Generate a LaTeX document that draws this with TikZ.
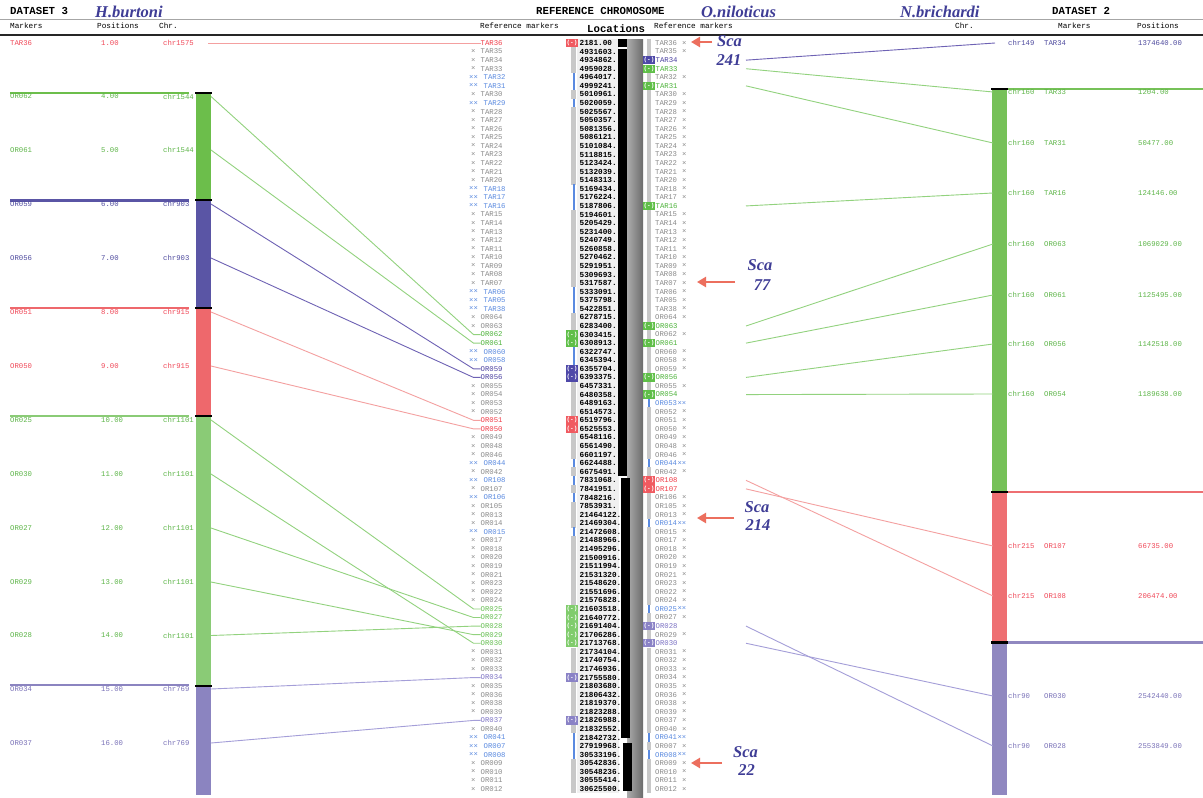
\documentclass[tikz,border=0pt]{standalone}
\usepackage{fontspec}
\setmainfont{Liberation Serif}
\setmonofont{Liberation Mono}
\usetikzlibrary{arrows.meta}
\definecolor{refgray}{HTML}{8A8A8A}
\definecolor{refblue}{HTML}{5A8AE0}
\definecolor{rowgray}{HTML}{C8C8C8}
\definecolor{numbg}{HTML}{F0F0F0}
\definecolor{tgreen}{HTML}{4DB33A}
\definecolor{tlgreen}{HTML}{66BF52}
\definecolor{tpurple}{HTML}{4A40A0}
\definecolor{tlav}{HTML}{7C72C4}
\definecolor{tred}{HTML}{F03C48}
\definecolor{bgreen}{HTML}{5FBF48}
\definecolor{blgreen}{HTML}{80CC6C}
\definecolor{bpurple}{HTML}{4E48A8}
\definecolor{blav}{HTML}{8A82C6}
\definecolor{bred}{HTML}{F05A60}
\definecolor{specblue}{HTML}{3F3D96}
\definecolor{arrowred}{HTML}{EC6F5E}
\definecolor{kgreenA}{HTML}{6CBE4B}
\definecolor{kpurple}{HTML}{5A55A5}
\definecolor{kred}{HTML}{EE686C}
\definecolor{kgreenB}{HTML}{8ACB76}
\definecolor{klav}{HTML}{8B84C0}
\definecolor{kgreenR}{HTML}{76C158}
\definecolor{kredR}{HTML}{EE6F72}
\definecolor{klavR}{HTML}{9088C0}
\definecolor{lgreen}{HTML}{92D27E}
\definecolor{lpurple}{HTML}{6E62B4}
\definecolor{lred}{HTML}{F4A0A0}
\definecolor{llav}{HTML}{A49ED8}
\definecolor{dred}{HTML}{F04858}
\definecolor{dgreen}{HTML}{5DB548}
\definecolor{dpurple}{HTML}{4E4A9E}
\definecolor{dlav}{HTML}{7A72B8}
\tikzset{
 reftxt/.style={anchor=west,inner sep=0pt,font=\ttfamily\fontsize{7.3}{8}\selectfont},
 numtxt/.style={anchor=west,inner sep=0pt,font=\ttfamily\bfseries\fontsize{7.7}{8}\selectfont},
 dtxt/.style={anchor=west,inner sep=0pt,font=\ttfamily\fontsize{7.3}{8}\selectfont},
 hdr/.style={anchor=west,inner sep=0pt,font=\ttfamily\fontsize{7.7}{9}\selectfont},
 hdrtitle/.style={anchor=west,inner sep=0pt,font=\ttfamily\bfseries\fontsize{10.7}{12}\selectfont},
 species/.style={anchor=west,inner sep=0pt,text=specblue,font=\bfseries\itshape\fontsize{16.5}{18}\selectfont},
 scatxt/.style={inner sep=0pt,text=specblue,font=\bfseries\itshape\fontsize{16.5}{18}\selectfont},
 scaarrow/.style={draw=arrowred,line width=2.8pt,-{Triangle[length=9pt,width=10pt]}},
 mbox/.style={minimum width=12pt,minimum height=8.4pt,inner sep=0pt,text=white,font=\ttfamily\bfseries\fontsize{6}{6}\selectfont},
 conn/.style={line width=0.9pt},
}
% left reference-marker styles
\newcommand\mkLn[2]{%
 \fill[rowgray] (571,\rowy-4.3) rectangle (576,\rowy+4.3);
 \node[reftxt,text=refgray] (LX#1) at (471,\rowy) {×};
 \node[reftxt,text=refgray] (LN#1) at (480.5,\rowy) {#2};}
\newcommand\mkLb[2]{%
 \fill[refblue] (572.5,\rowy-4.3) rectangle (575,\rowy+4.3);
 \node[reftxt,text=refblue] (LX#1) at (469,\rowy) {××};
 \node[reftxt,text=refblue] (LN#1) at (483.5,\rowy) {#2};}
\newcommand\mkLcol[4]{%
 \node[mbox,fill=#3] (LB#1) at (572,\rowy) {(-)};
 \node[reftxt,text=#4] (LN#1) at (480.5,\rowy) {#2};}
\newcommand\mkLg[2]{\mkLcol{#1}{#2}{bgreen}{tgreen}}
\newcommand\mkLh[2]{\mkLcol{#1}{#2}{blgreen}{tlgreen}}
\newcommand\mkLp[2]{\mkLcol{#1}{#2}{bpurple}{tpurple}}
\newcommand\mkLl[2]{\mkLcol{#1}{#2}{blav}{tlav}}
\newcommand\mkLr[2]{\mkLcol{#1}{#2}{bred}{tred}}
% right reference-marker styles
\newcommand\mkRn[2]{%
 \fill[rowgray] (647,\rowy-4.3) rectangle (651,\rowy+4.3);
 \node[reftxt,text=refgray] (RN#1) at (655,\rowy) {#2};
 \node[reftxt,text=refgray] (RX#1) at (682,\rowy) {×};}
\newcommand\mkRb[2]{%
 \fill[refblue] (648,\rowy-4.3) rectangle (650,\rowy+4.3);
 \node[reftxt,text=refblue] (RN#1) at (655,\rowy) {#2};
 \node[reftxt,text=refblue] (RX#1) at (RN#1.east) {××};}
\newcommand\mkRcol[4]{%
 \node[mbox,fill=#3] (RB#1) at (649,\rowy) {(-)};
 \node[reftxt,text=#4] (RN#1) at (655.5,\rowy) {#2};}
\newcommand\mkRg[2]{\mkRcol{#1}{#2}{bgreen}{tgreen}}
\newcommand\mkRp[2]{\mkRcol{#1}{#2}{bpurple}{tpurple}}
\newcommand\mkRl[2]{\mkRcol{#1}{#2}{blav}{tlav}}
\newcommand\mkRr[2]{\mkRcol{#1}{#2}{bred}{tred}}
\newcommand\refrow[5]{%
 \pgfmathsetmacro\rowy{43+(#1-1)*8.575}%
 \csname mkL#3\endcsname{#1}{#2}%
 \node[numtxt] (NUM#1) at (579.5,\rowy) {#4};%
 \csname mkR#5\endcsname{#1}{#2}%
 \coordinate (RE#1) at (746,\rowy);}
\newcommand\dsetL[6]{%
 \node[dtxt,text=#6] (DLM#1) at (10,#2) {#3};
 \node[dtxt,text=#6] (DLP#1) at (101,#2) {#4};
 \node[dtxt,text=#6] (DLC#1) at (163,#2) {#5};
 \coordinate (BL#1) at (211,#2);}
\newcommand\dsetR[6]{%
 \node[dtxt,text=#6] (DRC#1) at (1008,#2) {#3};
 \node[dtxt,text=#6] (DRM#1) at (1044,#2) {#4};
 \node[dtxt,text=#6] (DRP#1) at (1138,#2) {#5};
 \coordinate (BR#1) at (993,#2);}
\begin{document}
\begin{tikzpicture}[x=1pt,y=-1pt]
\fill[white] (0,0) rectangle (1203,798);
\useasboundingbox (0,0) rectangle (1203,798);
% ---------- header ----------
\node[hdrtitle] (T1) at (10,11) {DATASET 3};
\node[species] (S1) at (95,12) {H.burtoni};
\node[hdrtitle] (T2) at (536,11) {REFERENCE CHROMOSOME};
\node[species] (S2) at (701,12) {O.niloticus};
\node[species] (S3) at (900,12) {N.brichardi};
\node[hdrtitle] (T3) at (1052,11) {DATASET 2};
\draw[gray!70,line width=1.2pt] (0,19.5) -- (1203,19.5);
\node[hdr] (H1) at (10,26) {Markers};
\node[hdr] (H2) at (97,26) {Positions};
\node[hdr] (H3) at (159,26) {Chr.};
\node[hdr] (H4) at (480,26) {Reference markers};
\node[hdrtitle] (H5) at (587,28.5) {Locations};
\node[hdr] (H6) at (654,26) {Reference markers};
\node[hdr] (H7) at (955,26) {Chr.};
\node[hdr] (H8) at (1058,26) {Markers};
\node[hdr] (H9) at (1137,26) {Positions};
\draw[black!85,line width=2pt] (0,35) -- (1203,35);
% ---------- reference chromosome ----------
\fill[numbg] (577,39) rectangle (619,793);
\shade[left color=gray!65,middle color=gray!25,right color=gray!85!black] (627,39) rectangle (643,798);
\fill[black] (618,38.5) rectangle (627,47);
\fill[black] (618,49) rectangle (627,476);
\fill[black] (621,478) rectangle (630,738);
\fill[black] (623,743) rectangle (632,791);
\refrow{1}{TAR36}{r}{2181.00}{n}
\refrow{2}{TAR35}{n}{4931603.}{n}
\refrow{3}{TAR34}{n}{4934862.}{p}
\refrow{4}{TAR33}{n}{4959028.}{g}
\refrow{5}{TAR32}{b}{4964017.}{n}
\refrow{6}{TAR31}{b}{4999241.}{g}
\refrow{7}{TAR30}{n}{5010961.}{n}
\refrow{8}{TAR29}{b}{5020059.}{n}
\refrow{9}{TAR28}{n}{5025567.}{n}
\refrow{10}{TAR27}{n}{5050357.}{n}
\refrow{11}{TAR26}{n}{5081356.}{n}
\refrow{12}{TAR25}{n}{5086121.}{n}
\refrow{13}{TAR24}{n}{5101084.}{n}
\refrow{14}{TAR23}{n}{5118815.}{n}
\refrow{15}{TAR22}{n}{5123424.}{n}
\refrow{16}{TAR21}{n}{5132039.}{n}
\refrow{17}{TAR20}{n}{5148313.}{n}
\refrow{18}{TAR18}{b}{5169434.}{n}
\refrow{19}{TAR17}{b}{5176224.}{n}
\refrow{20}{TAR16}{b}{5187806.}{g}
\refrow{21}{TAR15}{n}{5194601.}{n}
\refrow{22}{TAR14}{n}{5205429.}{n}
\refrow{23}{TAR13}{n}{5231400.}{n}
\refrow{24}{TAR12}{n}{5240749.}{n}
\refrow{25}{TAR11}{n}{5260858.}{n}
\refrow{26}{TAR10}{n}{5270462.}{n}
\refrow{27}{TAR09}{n}{5291951.}{n}
\refrow{28}{TAR08}{n}{5309693.}{n}
\refrow{29}{TAR07}{n}{5317587.}{n}
\refrow{30}{TAR06}{b}{5333091.}{n}
\refrow{31}{TAR05}{b}{5375798.}{n}
\refrow{32}{TAR38}{b}{5422851.}{n}
\refrow{33}{OR064}{n}{6278715.}{n}
\refrow{34}{OR063}{n}{6283400.}{g}
\refrow{35}{OR062}{g}{6303415.}{n}
\refrow{36}{OR061}{g}{6308913.}{g}
\refrow{37}{OR060}{b}{6322747.}{n}
\refrow{38}{OR058}{b}{6345394.}{n}
\refrow{39}{OR059}{p}{6355704.}{n}
\refrow{40}{OR056}{p}{6393375.}{g}
\refrow{41}{OR055}{n}{6457331.}{n}
\refrow{42}{OR054}{n}{6480358.}{g}
\refrow{43}{OR053}{n}{6489163.}{b}
\refrow{44}{OR052}{n}{6514573.}{n}
\refrow{45}{OR051}{r}{6519796.}{n}
\refrow{46}{OR050}{r}{6525553.}{n}
\refrow{47}{OR049}{n}{6548116.}{n}
\refrow{48}{OR048}{n}{6561490.}{n}
\refrow{49}{OR046}{n}{6601197.}{n}
\refrow{50}{OR044}{b}{6624488.}{b}
\refrow{51}{OR042}{n}{6675491.}{n}
\refrow{52}{OR108}{b}{7831068.}{r}
\refrow{53}{OR107}{n}{7841951.}{r}
\refrow{54}{OR106}{b}{7848216.}{n}
\refrow{55}{OR105}{n}{7853931.}{n}
\refrow{56}{OR013}{n}{21464122.}{n}
\refrow{57}{OR014}{n}{21469304.}{b}
\refrow{58}{OR015}{b}{21472608.}{n}
\refrow{59}{OR017}{n}{21488966.}{n}
\refrow{60}{OR018}{n}{21495296.}{n}
\refrow{61}{OR020}{n}{21500916.}{n}
\refrow{62}{OR019}{n}{21511994.}{n}
\refrow{63}{OR021}{n}{21531320.}{n}
\refrow{64}{OR023}{n}{21548620.}{n}
\refrow{65}{OR022}{n}{21551696.}{n}
\refrow{66}{OR024}{n}{21576828.}{n}
\refrow{67}{OR025}{h}{21603518.}{b}
\refrow{68}{OR027}{h}{21640772.}{n}
\refrow{69}{OR028}{h}{21691404.}{l}
\refrow{70}{OR029}{h}{21706286.}{n}
\refrow{71}{OR030}{h}{21713768.}{l}
\refrow{72}{OR031}{n}{21734104.}{n}
\refrow{73}{OR032}{n}{21740754.}{n}
\refrow{74}{OR033}{n}{21746936.}{n}
\refrow{75}{OR034}{l}{21755580.}{n}
\refrow{76}{OR035}{n}{21803680.}{n}
\refrow{77}{OR036}{n}{21806432.}{n}
\refrow{78}{OR038}{n}{21819370.}{n}
\refrow{79}{OR039}{n}{21823288.}{n}
\refrow{80}{OR037}{l}{21826988.}{n}
\refrow{81}{OR040}{n}{21832552.}{n}
\refrow{82}{OR041}{b}{21842732.}{b}
\refrow{83}{OR007}{b}{27919968.}{n}
\refrow{84}{OR008}{b}{30533196.}{b}
\refrow{85}{OR009}{n}{30542836.}{n}
\refrow{86}{OR010}{n}{30548236.}{n}
\refrow{87}{OR011}{n}{30555414.}{n}
\refrow{88}{OR012}{n}{30625500.}{n}
% ---------- dataset 3 (left) ----------
\fill[kgreenA] (196,93) rectangle (211,200);
\fill[kpurple] (196,200) rectangle (211,308);
\fill[kred] (196,308) rectangle (211,416);
\fill[kgreenB] (196,416) rectangle (211,686);
\fill[klav] (196,686) rectangle (211,795);
\foreach \yb in {93,200,308,416,686} \fill[black] (195,\yb-1.4) rectangle (212,\yb+1.4);
\draw[kgreenA,line width=2.4pt] (10,93) -- (189,93);
\draw[kpurple,line width=2.4pt] (10,200.5) -- (189,200.5);
\draw[kred,line width=2.4pt] (10,308) -- (189,308);
\draw[kgreenB,line width=2.4pt] (10,416) -- (189,416);
\draw[klav,line width=2.4pt] (10,685) -- (189,685);
\dsetL{1}{43}{TAR36}{1.00}{chr1575}{dred}
\dsetL{2}{96.5}{OR062}{4.00}{chr1544}{dgreen}
\dsetL{3}{150}{OR061}{5.00}{chr1544}{dgreen}
\dsetL{4}{204}{OR059}{6.00}{chr903}{dpurple}
\dsetL{5}{258}{OR056}{7.00}{chr903}{dpurple}
\dsetL{6}{312}{OR051}{8.00}{chr915}{dred}
\dsetL{7}{366}{OR050}{9.00}{chr915}{dred}
\dsetL{8}{420}{OR025}{10.00}{chr1101}{dgreen}
\dsetL{9}{474}{OR030}{11.00}{chr1101}{dgreen}
\dsetL{10}{528}{OR027}{12.00}{chr1101}{dgreen}
\dsetL{11}{582}{OR029}{13.00}{chr1101}{dgreen}
\dsetL{12}{635.5}{OR028}{14.00}{chr1101}{dgreen}
\dsetL{13}{689}{OR034}{15.00}{chr769}{dlav}
\dsetL{14}{743}{OR037}{16.00}{chr769}{dlav}
\coordinate (BL1) at (208,43);
\draw[conn,lred] (BL1) -- (LN1.west);
\draw[conn,lgreen] (BL2) -- ([xshift=-7pt]LN35.west) -- (LN35.west);
\draw[conn,lgreen] (BL3) -- ([xshift=-7pt]LN36.west) -- (LN36.west);
\draw[conn,lpurple] (BL4) -- ([xshift=-7pt]LN39.west) -- (LN39.west);
\draw[conn,lpurple] (BL5) -- ([xshift=-7pt]LN40.west) -- (LN40.west);
\draw[conn,lred] (BL6) -- ([xshift=-7pt]LN45.west) -- (LN45.west);
\draw[conn,lred] (BL7) -- ([xshift=-7pt]LN46.west) -- (LN46.west);
\draw[conn,lgreen] (BL8) -- ([xshift=-7pt]LN67.west) -- (LN67.west);
\draw[conn,lgreen] (BL9) -- ([xshift=-7pt]LN71.west) -- (LN71.west);
\draw[conn,lgreen] (BL10) -- ([xshift=-7pt]LN68.west) -- (LN68.west);
\draw[conn,lgreen] (BL11) -- ([xshift=-7pt]LN70.west) -- (LN70.west);
\draw[conn,lgreen] (BL12) -- ([xshift=-7pt]LN69.west) -- (LN69.west);
\draw[conn,llav] (BL13) -- ([xshift=-7pt]LN75.west) -- (LN75.west);
\draw[conn,llav] (BL14) -- ([xshift=-7pt]LN80.west) -- (LN80.west);
% ---------- dataset 2 (right) ----------
\fill[kgreenR] (992,89) rectangle (1007,492);
\fill[kredR] (992,492) rectangle (1007,642.5);
\fill[klavR] (992,642.5) rectangle (1007,795);
\foreach \yb in {89,492,642.5} \fill[black] (991,\yb-1.4) rectangle (1008,\yb+1.4);
\draw[kgreenR,line width=2.2pt] (1008,89) -- (1203,89);
\draw[kredR,line width=2.2pt] (1008,492) -- (1203,492);
\draw[klavR,line width=2.2pt] (1008,642.5) -- (1203,642.5);
\dsetR{1}{43}{chr149}{TAR34}{1374640.00}{dpurple}
\dsetR{2}{92}{chr160}{TAR33}{1204.00}{dgreen}
\dsetR{3}{143}{chr160}{TAR31}{50477.00}{dgreen}
\dsetR{4}{193}{chr160}{TAR16}{124146.00}{dgreen}
\dsetR{5}{244}{chr160}{OR063}{1069029.00}{dgreen}
\dsetR{6}{295}{chr160}{OR061}{1125495.00}{dgreen}
\dsetR{7}{344}{chr160}{OR056}{1142518.00}{dgreen}
\dsetR{8}{394}{chr160}{OR054}{1189638.00}{dgreen}
\dsetR{9}{546}{chr215}{OR107}{66735.00}{dred}
\dsetR{10}{596}{chr215}{OR108}{206474.00}{dred}
\dsetR{11}{696}{chr90}{OR030}{2542440.00}{dlav}
\dsetR{12}{746}{chr90}{OR028}{2553849.00}{dlav}
\coordinate (BR1) at (995,43);
\draw[conn,lpurple] (RE3) -- (BR1);
\draw[conn,lgreen] (RE4) -- (BR2);
\draw[conn,lgreen] (RE6) -- (BR3);
\draw[conn,lgreen] (RE20) -- (BR4);
\draw[conn,lgreen] (RE34) -- (BR5);
\draw[conn,lgreen] (RE36) -- (BR6);
\draw[conn,lgreen] (RE40) -- (BR7);
\draw[conn,lgreen] (RE42) -- (BR8);
\draw[conn,lred] (RE53) -- (BR9);
\draw[conn,lred] (RE52) -- (BR10);
\draw[conn,llav] (RE71) -- (BR11);
\draw[conn,llav] (RE69) -- (BR12);
% ---------- scaffold annotations ----------
\node[scatxt] (SC1a) at (729.5,41) {Sca};
\node[scatxt] (SC1b) at (729,60) {241};
\node[scatxt] (SC2a) at (760,265) {Sca};
\node[scatxt] (SC2b) at (762,285) {77};
\node[scatxt] (SC3a) at (757,507) {Sca};
\node[scatxt] (SC3b) at (758,525) {214};
\node[scatxt] (SC4a) at (745.5,752) {Sca};
\node[scatxt] (SC4b) at (746.5,770) {22};
\coordinate (A1s) at (712,42); \coordinate (A1e) at (691,42);
\coordinate (A2s) at (735,282); \coordinate (A2e) at (697,282);
\coordinate (A3s) at (734,518); \coordinate (A3e) at (697,518);
\coordinate (A4s) at (722,763); \coordinate (A4e) at (691,763);
\draw[scaarrow] (A1s) -- (A1e);
\draw[scaarrow] (A2s) -- (A2e);
\draw[scaarrow] (A3s) -- (A3e);
\draw[scaarrow] (A4s) -- (A4e);
\end{tikzpicture}
\end{document}
